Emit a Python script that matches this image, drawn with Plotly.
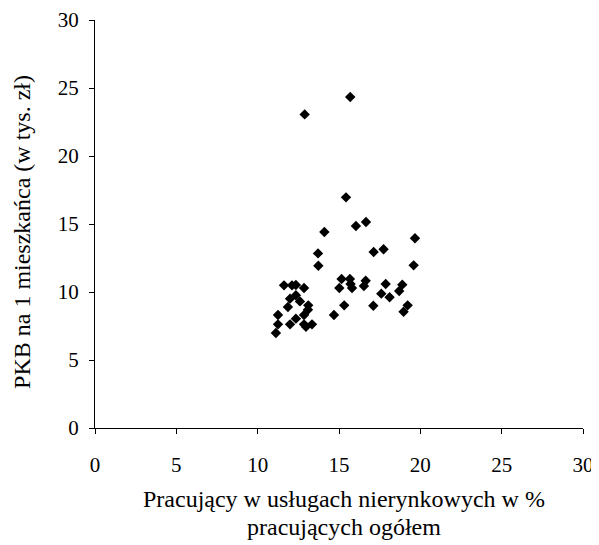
import plotly.graph_objects as go

# Pracujący w usługach nierynkowych (% pracujących ogółem) vs PKB na 1 mieszkańca
udzial_uslug = [
    15.43, 16.04, 16.66, 14.10, 19.67, 17.13, 17.74, 13.71, 13.73, 19.59,
    15.16, 15.67, 15.02, 15.71, 15.80, 16.64, 16.53, 17.87, 18.89, 18.70,
    17.60, 18.11, 15.32, 17.11, 19.22, 18.97, 14.69,
    11.62, 12.11, 12.35, 12.85, 11.99, 12.35, 12.60, 11.86, 13.11, 13.09,
    12.85, 11.25, 12.35, 11.99, 11.25, 12.85, 12.97, 13.34, 11.12,
    15.69, 12.89,
]
pkb = [
    16.96, 14.85, 15.15, 14.41, 13.95, 12.94, 13.14, 12.84, 11.93, 11.96,
    10.96, 10.96, 10.29, 10.59, 10.29, 10.83, 10.44, 10.59, 10.54, 10.07,
    9.88, 9.61, 9.02, 8.99, 9.02, 8.55, 8.31,
    10.49, 10.49, 10.51, 10.29, 9.51, 9.76, 9.31, 8.90, 9.02, 8.70,
    8.31, 8.31, 8.04, 7.62, 7.62, 7.62, 7.45, 7.62, 6.99,
    24.34, 23.06,
]
ticks = [0, 5, 10, 15, 20, 25, 30]

FONT = "Liberation Serif, Times New Roman, serif"

fig = go.Figure()
fig.add_trace(go.Scatter(
    x=udzial_uslug,
    y=pkb,
    mode="markers",
    marker=dict(symbol="diamond", size=8, color="black"),
    showlegend=False,
))

axis_common = dict(
    range=[0, 30],
    tickvals=ticks,
    showgrid=False,
    zeroline=False,
    showline=True,
    linecolor="black",
    linewidth=1,
    ticks="outside",
    ticklen=5,
    tickcolor="black",
    automargin=False,
    tickfont=dict(family=FONT, size=21, color="black"),
)

fig.update_xaxes(**axis_common, ticklabelstandoff=13)
fig.update_yaxes(**axis_common, ticklabelstandoff=6)

fig.add_annotation(
    text="PKB na 1 mieszkańca (w tys. zł)",
    xref="paper", yref="paper", x=-0.15, y=0.48,
    xanchor="center", yanchor="middle",
    textangle=-90, showarrow=False,
    font=dict(family=FONT, size=24, color="black"),
)
fig.add_annotation(
    text="Pracujący w usługach nierynkowych w %",
    xref="paper", yref="paper", x=0.51, y=-0.174,
    xanchor="center", yanchor="middle",
    showarrow=False,
    font=dict(family=FONT, size=24, color="black"),
)
fig.add_annotation(
    text="pracujących ogółem",
    xref="paper", yref="paper", x=0.51, y=-0.243,
    xanchor="center", yanchor="middle",
    showarrow=False,
    font=dict(family=FONT, size=24, color="black"),
)

# page body adds an 8px margin, so the figure is sized to fit the window
fig.update_layout(
    width=591,
    height=537,
    margin=dict(l=87, r=16, t=12, b=117),
    plot_bgcolor="white",
    paper_bgcolor="white",
    font=dict(family=FONT, color="black"),
)

fig.write_html("out.html")
